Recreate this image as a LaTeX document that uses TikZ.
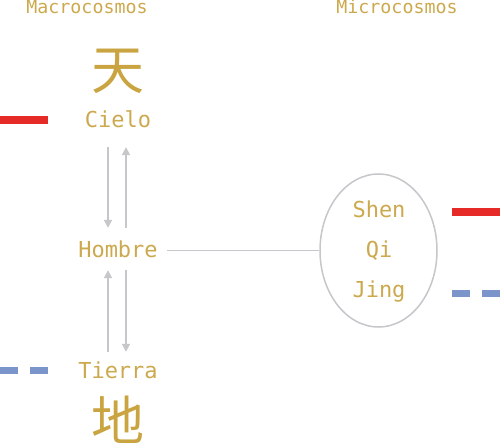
\documentclass[tikz,border=0pt]{standalone}
\usepackage{fontspec}
\setmonofont{DejaVu Sans Mono}
\newfontfamily\cjk{Noto Sans CJK SC}
\usetikzlibrary{arrows.meta,shapes.geometric}
\definecolor{gold}{HTML}{CCA94E}
\definecolor{hanzi}{HTML}{C9A441}
\definecolor{linegrey}{HTML}{C6C6CB}
\definecolor{heavenred}{HTML}{E52A27}
\definecolor{earthblue}{HTML}{7B94CA}
\tikzset{
  title/.style={text=gold, font=\ttfamily\fontsize{18.3}{21}\selectfont, anchor=base},
  term/.style={text=gold, font=\ttfamily\fontsize{22}{26}\selectfont, anchor=base,
    inner sep=0pt, text height=16pt, text depth=5pt},
  glyph/.style={text=hanzi, font=\cjk\fontsize{53}{58}\selectfont, inner sep=0pt},
  flow/.style={-{Triangle[length=8pt,width=8pt]}, linegrey, line width=1.8pt},
  link/.style={linegrey, line width=1.5pt},
  red bar/.style={heavenred, line width=8pt},
  blue bar/.style={earthblue, line width=7pt, dash pattern=on 18pt off 12pt},
}

\begin{document}
\begin{tikzpicture}[x=1pt, y=-1pt]
  \useasboundingbox (0,0) rectangle (500,446);

  % Column titles
  \node[title] (macro) at (87,14) {Macrocosmos};
  \node[title] (micro) at (397,14) {Microcosmos};

  % Macrocosm column
  \node[glyph] (tian) at (118,71) {天};
  \node[term] (cielo) at (118,128) {Cielo};
  \node[term] (hombre) at (118,258) {Hombre};
  \node[term] (tierra) at (118,378) {Tierra};
  \node[glyph] (di) at (118,420) {地};

  % Exchange between heaven, man and earth
  \draw[flow, shorten <=14pt, shorten >=14pt] ([xshift=-10pt]cielo.south) -- ([xshift=-10pt]hombre.north);
  \draw[flow, shorten <=14pt, shorten >=14pt] ([xshift=8pt]hombre.north) -- ([xshift=8pt]cielo.south);
  \draw[flow, shorten <=10pt, shorten >=7pt] ([xshift=-10pt]tierra.north) -- ([xshift=-10pt]hombre.south);
  \draw[flow, shorten <=7pt, shorten >=10pt] ([xshift=8pt]hombre.south) -- ([xshift=8pt]tierra.north);

  % Microcosm: the three treasures
  \node[ellipse, draw=linegrey, line width=1.5pt, minimum width=117pt, minimum height=153pt,
    inner sep=0pt] (tesoros) at (378.5,250.5) {};
  \node[term] (shen) at (379,218) {Shen};
  \node[term] (qi) at (379,257) {Qi};
  \node[term] (jing) at (379,297) {Jing};
  \draw[link, shorten <=9pt] ([yshift=2pt]hombre.east) -- (tesoros.west);

  % Yang / yin markers
  \draw[red bar] (0,120) -- (48,120);
  \draw[red bar] (452,212) -- (500,212);
  \draw[blue bar] (0,370.5) -- (48,370.5);
  \draw[blue bar] (452,293.5) -- (500,293.5);

\end{tikzpicture}
\end{document}
